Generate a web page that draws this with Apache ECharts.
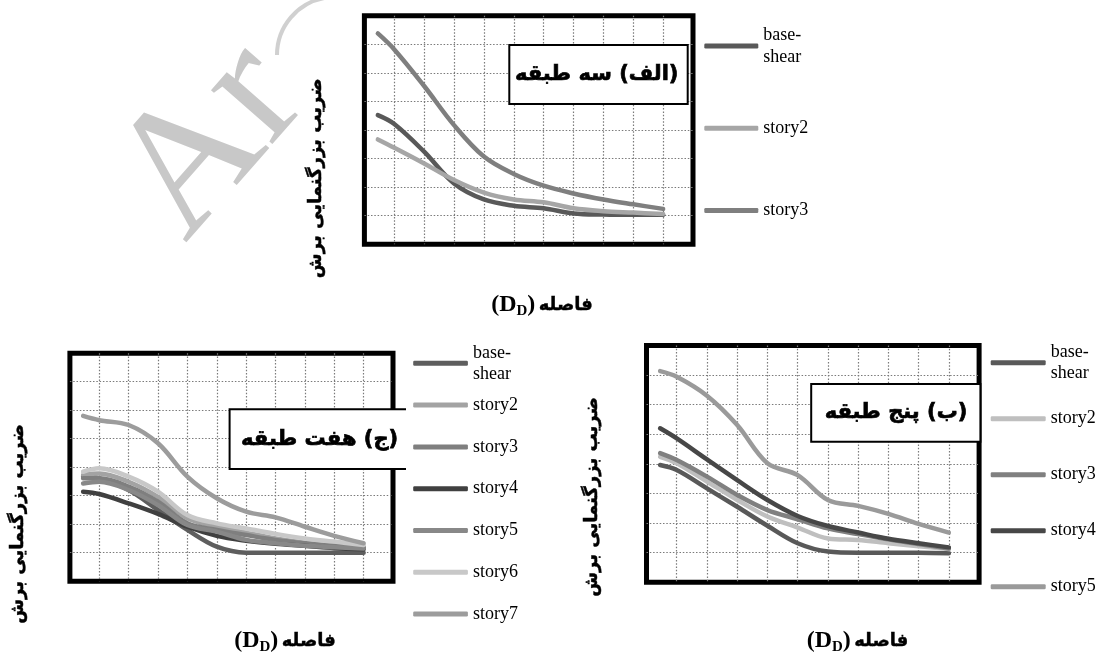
<!DOCTYPE html>
<html><head><meta charset="utf-8">
<script src="https://cdn.jsdelivr.net/npm/echarts@6/dist/echarts.min.js"></script>
<style>html,body{margin:0;padding:0;background:#fff}#c{width:1098px;height:657px}</style>
</head><body><div id="c"></div>
<script>
// distance positions (grid units)
const XS = [-0.55, 0, 1, 2, 3, 4, 5, 6, 7, 8, 9];

// (الف) three-storey
const P3_NAMES = ['base-shear', 'story2', 'story3'];
const P3_BASE = [4.52, 4.21, 3.24, 2.13, 1.57, 1.35, 1.26, 1.08, 1.04, 1.03, 1.03];
const P3_S2   = [3.67, 3.38, 2.83, 2.25, 1.81, 1.57, 1.47, 1.26, 1.16, 1.11, 1.06];
const P3_S3   = [7.38, 6.82, 5.54, 4.17, 3.07, 2.46, 2.05, 1.78, 1.57, 1.40, 1.24];
const P3_COLORS = ['#595959', '#a6a6a6', '#7f7f7f'];

// (ب) five-storey
const P5_NAMES = ['base-shear', 'story2', 'story3', 'story4', 'story5'];
const P5_BASE = [3.96, 3.79, 3.17, 2.55, 1.91, 1.32, 1.04, 1.00, 1.00, 1.00, 0.98];
const P5_S2   = [4.24, 4.02, 3.40, 2.78, 2.22, 1.85, 1.48, 1.43, 1.32, 1.22, 1.12];
const P5_S3   = [4.36, 4.13, 3.57, 2.95, 2.44, 2.13, 1.82, 1.63, 1.45, 1.29, 1.14];
const P5_S4   = [5.20, 4.86, 4.15, 3.45, 2.78, 2.24, 1.90, 1.68, 1.47, 1.32, 1.18];
const P5_S5   = [7.13, 6.94, 6.30, 5.31, 4.02, 3.62, 2.78, 2.58, 2.31, 1.97, 1.68];
const P5_COLORS = ['#595959', '#bfbfbf', '#808080', '#474747', '#9a9a9a'];

// (ج) seven-storey
const P7_NAMES = ['base-shear', 'story2', 'story3', 'story4', 'story5', 'story6', 'story7'];
const P7_BASE = [3.67, 3.61, 3.20, 2.50, 1.80, 1.21, 1.00, 1.00, 1.00, 1.00, 1.00];
const P7_S2   = [3.73, 3.78, 3.49, 2.96, 2.21, 1.91, 1.70, 1.50, 1.35, 1.24, 1.19];
const P7_S3   = [3.61, 3.61, 3.32, 2.79, 2.03, 1.80, 1.62, 1.45, 1.33, 1.24, 1.19];
const P7_S4   = [3.14, 3.06, 2.73, 2.36, 1.91, 1.59, 1.42, 1.31, 1.24, 1.16, 1.12];
const P7_S5   = [3.43, 3.49, 3.20, 2.67, 1.97, 1.74, 1.45, 1.33, 1.24, 1.19, 1.15];
const P7_S6   = [3.84, 3.96, 3.67, 3.14, 2.32, 2.03, 1.85, 1.66, 1.50, 1.39, 1.27];
const P7_S7   = [5.80, 5.65, 5.48, 4.84, 3.67, 2.91, 2.44, 2.24, 1.91, 1.59, 1.33];
const P7_COLORS = ['#5e5e5e', '#a3a3a3', '#7f7f7f', '#404040', '#888888', '#c8c8c8', '#9c9c9c'];

const PANEL_TITLES = ['\u200F(الف) سه طبقه\u200F', '\u200F(ج) هفت طبقه\u200F', '\u200F(ب) پنج طبقه\u200F'];
const Y_TITLE = 'ضریب بزرگنمایی برش';
const X_TITLE_FA = 'فاصله';

const chart = echarts.init(document.getElementById('c'), null, {renderer: 'canvas'});

const gridLine = {show: true, showMinLine: false, showMaxLine: false,
  lineStyle: {type: [1.5, 1.8], color: '#7a7a7a', width: 1.2}};
function xAx(i) { return {type: 'value', gridIndex: i, min: -1, max: 10, interval: 1,
  axisLine: {show: false}, axisTick: {show: false}, axisLabel: {show: false}, splitLine: gridLine}; }
function yAx(i) { return {type: 'value', gridIndex: i, min: 0, max: 8, interval: 1,
  axisLine: {show: false}, axisTick: {show: false}, axisLabel: {show: false}, splitLine: gridLine}; }
function frame(l, t, w, h) { return {left: l, top: t, width: w, height: h, show: true,
  borderColor: '#000', borderWidth: 5, backgroundColor: '#fff'}; }

function mk(prefix, name, data, color, gi) {
  return {name: prefix + '|' + name, type: 'line', xAxisIndex: gi, yAxisIndex: gi,
    data: XS.map((x, i) => [x, data[i]]), smooth: 0.35, showSymbol: false, symbol: 'none',
    color: color, itemStyle: {color: color},
    lineStyle: {width: 4.5, color: color, cap: 'round', join: 'round'}, z: 3};
}

const series = [];
[P3_BASE, P3_S2, P3_S3].forEach((d, i) => series.push(mk('a', P3_NAMES[i], d, P3_COLORS[i], 0)));
[P7_BASE, P7_S2, P7_S3, P7_S4, P7_S5, P7_S6, P7_S7].forEach((d, i) => series.push(mk('c', P7_NAMES[i], d, P7_COLORS[i], 1)));
[P5_BASE, P5_S2, P5_S3, P5_S4, P5_S5].forEach((d, i) => series.push(mk('b', P5_NAMES[i], d, P5_COLORS[i], 2)));

const FONT_SERIF = "'Liberation Serif', 'Times New Roman', serif";
function fmt(n) { const s = n.split('|')[1]; return s === 'base-shear' ? 'base-\nshear' : s; }
function legends(prefix, names, left, iconW, baseY, step, fs, lh) {
  const common = {orient: 'vertical', left: left, itemWidth: iconW, itemHeight: 5, icon: 'roundRect',
    padding: 0, selectedMode: false, formatter: fmt};
  return [
    Object.assign({}, common, {data: [prefix + '|' + names[0]], top: baseY - 1.5 * lh,
      textStyle: {fontFamily: FONT_SERIF, fontSize: fs, lineHeight: lh, color: '#000', padding: [lh, 0, 0, 0]}}),
    Object.assign({}, common, {data: names.slice(1).map(n => prefix + '|' + n), top: baseY + step - lh / 2,
      itemGap: step - lh, textStyle: {fontFamily: FONT_SERIF, fontSize: fs, lineHeight: lh, color: '#000'}})
  ];
}

const FA_FAMILY = "'DejaVu Sans', 'Noto Sans', sans-serif";
function yTitle(x, y) {
  return {type: 'text', x: x, y: y, rotation: Math.PI / 2, z: 100,
    style: {text: Y_TITLE, font: 'bold 18px ' + FA_FAMILY, fill: '#000', stroke: '#000', lineWidth: 0.5,
      align: 'center', verticalAlign: 'middle'}};
}
function xTitle(x, y) {
  return {type: 'text', x: x, y: y, z: 100,
    style: {text: '{p|(D}{s|D}{p|)} {fa|' + X_TITLE_FA + '}', align: 'center', verticalAlign: 'middle',
      rich: {
        p: {fontFamily: FONT_SERIF, fontWeight: 'bold', fontSize: 24, lineHeight: 28, fill: '#000', verticalAlign: 'middle'},
        s: {fontFamily: FONT_SERIF, fontWeight: 'bold', fontSize: 15, lineHeight: 13, fill: '#000', verticalAlign: 'bottom'},
        fa: {fontFamily: FA_FAMILY, fontWeight: 'bold', fontSize: 18, lineHeight: 28, fill: '#000',
          stroke: '#000', lineWidth: 0.4, verticalAlign: 'middle'}
      }}};
}
function box(x1, y1, x2, y2, text, tx, ty, openRight) {
  const els = [{type: 'rect', z: 100, shape: {x: x1, y: y1, width: x2 - x1, height: y2 - y1},
    style: {fill: '#fff', stroke: openRight ? null : '#000', lineWidth: 2}}];
  if (openRight) {
    els.push({type: 'polyline', z: 101, shape: {points: [[x2, y1], [x1, y1], [x1, y2], [x2, y2]]},
      style: {stroke: '#000', lineWidth: 2, fill: null}});
  }
  els.push({type: 'text', z: 102, x: tx, y: ty,
    style: {text: text, font: 'bold 21px ' + FA_FAMILY, fill: '#000', stroke: '#000', lineWidth: 0.7,
      align: 'center', verticalAlign: 'middle'}});
  return els;
}

const graphics = [
  {type: 'text', x: 212, y: 142, rotation: 0.85, z: 0,
    style: {text: 'Ar', font: "178px 'Liberation Serif', serif", fill: '#c8c8c8', align: 'center', verticalAlign: 'middle'}},
  {type: 'arc', z: 0, shape: {cx: 335, cy: 55, r: 58, startAngle: Math.PI * 1.0, endAngle: Math.PI * 1.45, clockwise: true},
    style: {stroke: '#d0d0d0', lineWidth: 4, fill: null}},
  yTitle(316.7, 178.3), yTitle(18.8, 524), yTitle(592.5, 497),
  xTitle(542, 305), xTitle(285, 641), xTitle(857.5, 641)
].concat(
  box(509.3, 45, 687.7, 104, PANEL_TITLES[0], 596.7, 74.5, false),
  box(229.6, 409.3, 406, 469, PANEL_TITLES[1], 319.6, 440, true),
  box(811.2, 384, 980.4, 441.7, PANEL_TITLES[2], 896, 413, false)
);

chart.setOption({
  animation: false,
  backgroundColor: '#fff',
  grid: [frame(364.4, 15.7, 328.6, 228.6), frame(69.9, 353.2, 323.1, 228), frame(646.5, 345.4, 332.6, 236.9)],
  xAxis: [xAx(0), xAx(1), xAx(2)],
  yAxis: [yAx(0), yAx(1), yAx(2)],
  legend: [].concat(
    legends('a', P3_NAMES, 704.3, 54, 46, 82.3, 18, 21.6),
    legends('c', P7_NAMES, 413.2, 54.7, 363.3, 41.8, 18, 21),
    legends('b', P5_NAMES, 990.7, 55, 362.7, 56, 18, 21)
  ),
  series: series,
  graphic: graphics
});
</script>
</body></html>
